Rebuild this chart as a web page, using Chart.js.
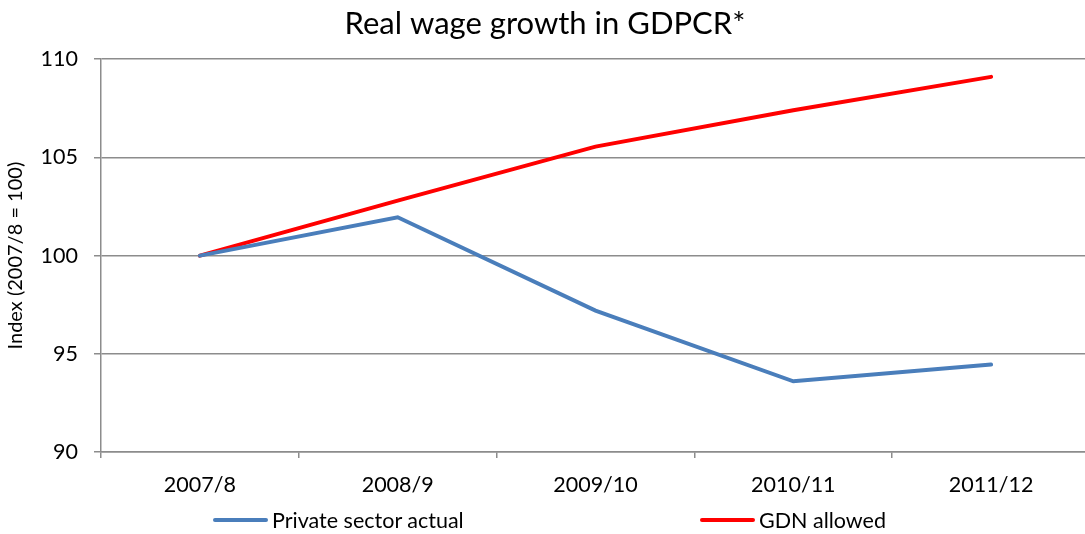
<!DOCTYPE html>
<html>
<head>
<meta charset="utf-8">
<script src="https://cdn.jsdelivr.net/npm/chart.js@4/dist/chart.umd.min.js"></script>
<style>
  html, body { margin: 0; padding: 0; background: #fff; overflow: hidden; }
  #wrap { position: relative; width: 1090px; height: 534px; }
  #legend {
    position: absolute; left: 213px; top: 507px;
    display: flex;
    font-family: Lato, "Open Sans", sans-serif; font-size: 21.5px; color: #000;
  }
  .item { display: flex; align-items: center; }
  .item + .item { position: absolute; left: 487px; white-space: nowrap; }
  .swatch { width: 55px; height: 4px; border-radius: 2px; margin-right: 4px; }
</style>
</head>
<body>
<div id="wrap">
  <canvas id="chart" width="1090" height="534"></canvas>
  <div id="legend"></div>
</div>
<script>
const years = ['2007/8', '2008/9', '2009/10', '2010/11', '2011/12'];
const privateActual = [100, 101.95, 97.2, 93.6, 94.45];
const gdnAllowed = [100, 102.8, 105.55, 107.4, 109.1];
const yTicks = [90, 95, 100, 105, 110];

const font = "Lato, 'Open Sans', sans-serif";
const gridColor = '#8c8c8c';

const datasets = [{
  label: 'Private sector actual',
  data: privateActual,
  borderColor: '#4a7ebb',
  backgroundColor: '#4a7ebb',
  borderWidth: 4,
  pointRadius: 0,
  borderCapStyle: 'round',
  tension: 0
}, {
  label: 'GDN allowed',
  data: gdnAllowed,
  borderColor: '#ff0000',
  backgroundColor: '#ff0000',
  borderWidth: 4,
  pointRadius: 0,
  borderCapStyle: 'round',
  tension: 0
}];

const chart = new Chart(document.getElementById('chart'), {
  type: 'line',
  data: { labels: years, datasets: datasets },
  options: {
    responsive: false,
    animation: false,
    layout: { padding: { left: 0, right: 0, top: 0, bottom: 38 } },
    plugins: {
      legend: { display: false },
      tooltip: { enabled: false },
      title: {
        display: true,
        text: 'Real wage growth in GDPCR*',
        color: '#000',
        font: { family: font, size: 31, weight: 'normal' },
        padding: { top: 5, bottom: 17 }
      }
    },
    scales: {
      x: {
        offset: true,
        afterFit: (scale) => { scale.height = 44; },
        grid: {
          offset: true,
          drawOnChartArea: false,
          color: gridColor,
          lineWidth: 1.5,
          tickLength: 6
        },
        border: { color: gridColor, width: 1.5 },
        ticks: {
          color: '#000',
          padding: 14,
          font: { family: font, size: 21.5 }
        }
      },
      y: {
        min: 90,
        max: 110,
        afterFit: (scale) => { scale.width = 101; },
        afterBuildTicks: (scale) => { scale.ticks = yTicks.map(v => ({ value: v })); },
        grid: { color: gridColor, lineWidth: 1.5, tickLength: 7 },
        border: { color: gridColor, width: 1.5 },
        ticks: {
          color: '#000',
          padding: 16,
          font: { family: font, size: 21.5 }
        },
        title: {
          display: true,
          text: 'Index (2007/8 = 100)',
          color: '#000',
          font: { family: font, size: 20 },
          padding: { top: 4, bottom: 0 }
        }
      }
    }
  }
});

// legend built from the datasets, laid out below the axis
const legend = document.getElementById('legend');
chart.data.datasets.forEach(ds => {
  const item = document.createElement('div');
  item.className = 'item';
  const sw = document.createElement('span');
  sw.className = 'swatch';
  sw.style.background = ds.borderColor;
  const txt = document.createElement('span');
  txt.textContent = ds.label;
  item.appendChild(sw);
  item.appendChild(txt);
  legend.appendChild(item);
});
</script>
</body>
</html>
